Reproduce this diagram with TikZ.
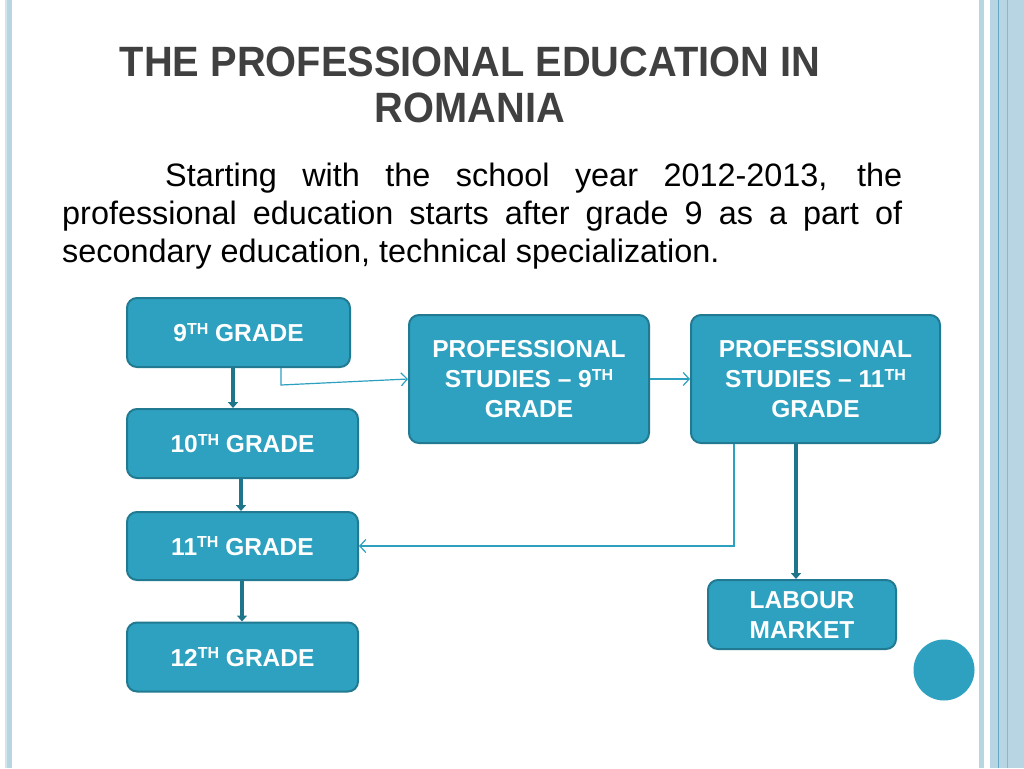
\documentclass[tikz,border=0pt]{standalone}
\usepackage{fontspec}
\setmainfont{Liberation Sans}
\usetikzlibrary{arrows.meta,calc}
\definecolor{boxfill}{RGB}{45,161,191}
\definecolor{boxedge}{RGB}{33,122,145}
\definecolor{arrowdark}{RGB}{31,117,138}
\definecolor{thinline}{RGB}{45,160,192}
\definecolor{stripe}{RGB}{183,213,226}
\definecolor{stripelight}{RGB}{208,229,236}
\definecolor{stripeline}{RGB}{100,165,200}
\definecolor{titlegray}{RGB}{64,64,64}
\newcommand{\supth}[1]{\raisebox{0.3em}{\fontsize{16}{16}\selectfont #1}}
\tikzset{
  gradebox/.style={draw=boxedge, line width=2, fill=boxfill, rounded corners=10,
    text=white, font=\fontsize{24.5}{30}\selectfont\bfseries, align=center, inner sep=0},
  bigarrow/.style={draw=arrowdark, line width=4, -{Triangle[width=10,length=6]}},
  smallarrow/.style={draw=thinline, line width=1.2, -{Straight Barb[length=6,width=13,line width=1.2]}},
  bodytext/.style={anchor=base west, inner sep=0, font=\fontsize{32.4}{38}\selectfont},
  titletext/.style={anchor=base, inner sep=0, text=titlegray, font=\fontsize{40}{46}\selectfont\bfseries}
}
\begin{document}
\begin{tikzpicture}[x=1pt,y=-1pt]
\useasboundingbox (0,0) rectangle (1024,768);
\fill[white] (0,0) rectangle (1024,768);
% side stripes
\fill[stripelight] (4.5,0) rectangle (7,768);
\fill[stripe] (7,0) rectangle (12,768);
\fill[stripe] (979,0) rectangle (983.5,768);
\fill[stripe] (990,0) rectangle (1024,768);
\draw[stripeline, line width=1] (998.5,0) -- (998.5,768);
\draw[stripeline!60!stripe, line width=0.8] (1007,0) -- (1007,768);
% title
\node[titletext] (t1) at (470,77) {\scalebox{0.995}[1.06]{THE PROFESSIONAL EDUCATION IN}};
\node[titletext] (t2) at (470,122) {\scalebox{0.995}[1.06]{ROMANIA}};
% body
\node[bodytext] (b1) at (165,186) {\makebox[737pt][s]{Starting with the school year 2012-2013, the}};
\node[bodytext] (b2) at (62,224) {\makebox[840pt][s]{professional education starts after grade 9 as a part of}};
\node[bodytext] (b3) at (62,262) {secondary education, technical specialization.};
% boxes
\node[gradebox, minimum width=223, minimum height=69] (g9) at (238.5,332.5) {9\supth{TH} GRADE};
\node[gradebox, minimum width=231, minimum height=69] (g10) at (242.5,443.5) {10\supth{TH} GRADE};
\node[gradebox, minimum width=231, minimum height=68] (g11) at (242.5,546) {11\supth{TH} GRADE};
\node[gradebox, minimum width=231, minimum height=69] (g12) at (242.5,657) {12\supth{TH} GRADE};
\node[gradebox, minimum width=240, minimum height=128] (ps9) at (529,379) {PROFESSIONAL\\STUDIES -- 9\supth{TH}\\GRADE};
\node[gradebox, minimum width=249, minimum height=128] (ps11) at (815.5,379) {PROFESSIONAL\\STUDIES -- 11\supth{TH}\\GRADE};
\node[gradebox, minimum width=188, minimum height=69] (lab) at (802,614.5) {LABOUR\\MARKET};
\fill[boxfill] (944,670) circle (30.5);
% connectors
\coordinate (a1) at ([xshift=-5.5]g9.south);
\draw[bigarrow] (a1) -- (a1 |- g10.north);
\coordinate (a2) at ([xshift=-1.5]g10.south);
\draw[bigarrow] (a2) -- (a2 |- g11.north);
\coordinate (a3) at ([xshift=-0.5]g11.south);
\draw[bigarrow] (a3) -- (a3 |- g12.north);
\coordinate (a4) at ([xshift=-19.5]ps11.south);
\draw[bigarrow] (a4) -- (a4 |- lab.north);
\coordinate (c1) at ([xshift=42.5]g9.south);
\draw[smallarrow] (c1) -- ++(0,17) -- (ps9.west);
\draw[smallarrow] (ps9.east) -- (ps11.west);
\coordinate (c5) at ([xshift=-81.5]ps11.south);
\draw[smallarrow] (c5) |- (g11.east);
\end{tikzpicture}
\end{document}
